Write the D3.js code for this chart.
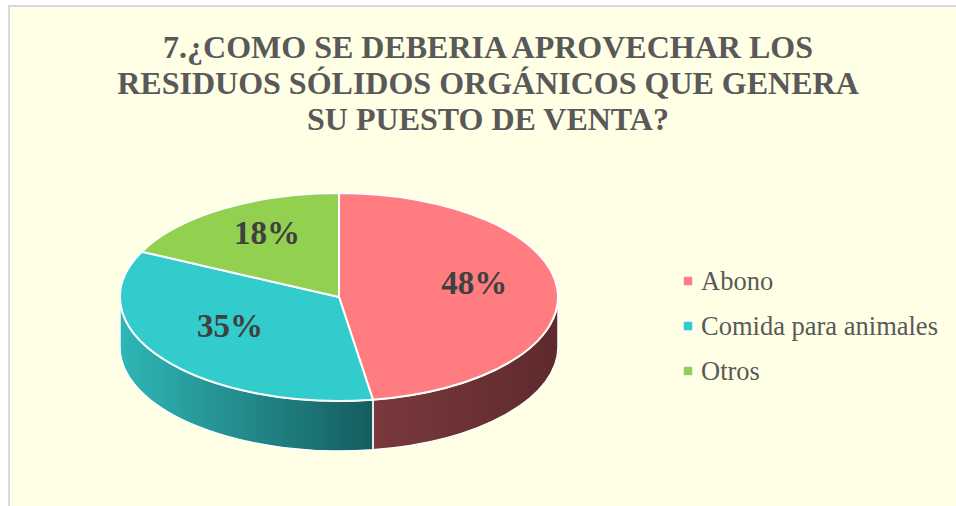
<!DOCTYPE html>
<html>
<head>
<meta charset="utf-8">
<script src="https://cdn.jsdelivr.net/npm/d3@7"></script>
<style>
  body { margin: 0; background: #ffffff; }
  svg { display: block; }
  .title { font-family: "Liberation Serif", "DejaVu Serif", serif; font-weight: bold; font-size: 32px; fill: #595959; }
  .pct { font-family: "Liberation Serif", "DejaVu Serif", serif; font-weight: bold; font-size: 33px; fill: #404040; }
  .legend-text { font-family: "Liberation Serif", "DejaVu Serif", serif; font-size: 26.5px; fill: #595959; }
</style>
</head>
<body>
<script>
// chart data
var categories = ["Abono", "Comida para animales", "Otros"];
var values = [48, 35, 18];
var pctLabels = ["48%", "35%", "18%"];
var titleLines = ["7.¿COMO SE DEBERIA APROVECHAR LOS", "RESIDUOS SÓLIDOS ORGÁNICOS QUE GENERA", "SU PUESTO DE VENTA?"];

var svgWidth = 956;
var svgHeight = 506;

// pie geometry (tilted disc)
var cx = 339, cy = 297, rx = 219, ry = 104, depth = 50;

var topColors = ["#FF7C80", "#33CCCC", "#92D050"];
var sideColors = [["#7a393c", "#5e2a2d"], ["#2fb6b6", "#155d5e"], ["#6d9c3a", "#4a6b26"]];

var svg = d3.select("body").append("svg")
    .attr("width", svgWidth)
    .attr("height", svgHeight);

// panel
svg.append("rect")
    .attr("x", 9).attr("y", 6)
    .attr("width", svgWidth).attr("height", svgHeight)
    .attr("fill", "#FFFFE5")
    .attr("stroke", "#d9d9d9")
    .attr("stroke-width", 2);

// title
var title = svg.append("text").attr("class", "title").attr("text-anchor", "middle");
titleLines.forEach(function (line, i) {
    title.append("tspan")
        .attr("x", 488)
        .attr("y", 58 + i * 36)
        .text(line);
});

// gradients for side walls
var defs = svg.append("defs");
sideColors.forEach(function (c, i) {
    var g = defs.append("linearGradient")
        .attr("id", "side" + i)
        .attr("x1", "0%").attr("x2", "100%")
        .attr("y1", "0%").attr("y2", "0%");
    g.append("stop").attr("offset", "0%").attr("stop-color", c[0]);
    g.append("stop").attr("offset", "100%").attr("stop-color", c[1]);
});

var pie = d3.pie().sort(null).value(function (d) { return d; });
var arcs = pie(values);

function pt(a, r, dy) {
    r = r == null ? 1 : r;
    return [cx + rx * r * Math.sin(a), cy - ry * r * Math.cos(a) + (dy || 0)];
}

function topPath(d) {
    var p0 = pt(d.startAngle), p1 = pt(d.endAngle);
    var large = (d.endAngle - d.startAngle) > Math.PI ? 1 : 0;
    return "M" + cx + "," + cy + "L" + p0 + "A" + rx + "," + ry + " 0 " + large + " 1 " + p1 + "Z";
}

function sidePath(d) {
    var s = Math.max(d.startAngle, Math.PI / 2);
    var e = Math.min(d.endAngle, Math.PI * 1.5);
    if (e <= s) return null;
    var a = pt(s), b = pt(e), bd = pt(e, 1, depth), ad = pt(s, 1, depth);
    return "M" + a + "A" + rx + "," + ry + " 0 0 1 " + b +
        "L" + bd + "A" + rx + "," + ry + " 0 0 0 " + ad + "Z";
}

var pieGroup = svg.append("g");

// walls
pieGroup.selectAll(".side")
    .data(arcs.filter(function (d) { return sidePath(d) != null; }))
    .enter()
    .append("path")
    .classed("side", true)
    .attr("d", sidePath)
    .attr("fill", function (d) { return "url(#side" + d.index + ")"; })
    .attr("stroke", "#ffffff")
    .attr("stroke-width", 1.5)
    .attr("stroke-linejoin", "round");

// top faces
pieGroup.selectAll(".top")
    .data(arcs)
    .enter()
    .append("path")
    .classed("top", true)
    .attr("d", topPath)
    .attr("fill", function (d, i) { return topColors[i]; })
    .attr("stroke", "#ffffff")
    .attr("stroke-width", 2)
    .attr("stroke-linejoin", "round");

// percent labels: placed on a slightly raised inner ellipse
pieGroup.selectAll(".pct")
    .data(arcs)
    .enter()
    .append("text")
    .attr("class", "pct")
    .attr("text-anchor", "middle")
    .attr("x", function (d) { return pt((d.startAngle + d.endAngle) / 2, 0.62)[0]; })
    .attr("y", function (d) { return pt((d.startAngle + d.endAngle) / 2, 0.62, -10)[1] + 12; })
    .text(function (d, i) { return pctLabels[i]; });

// legend
var legend = svg.append("g").attr("transform", "translate(683, 281)");
var item = legend.selectAll(".item")
    .data(categories)
    .enter()
    .append("g")
    .attr("transform", function (d, i) { return "translate(0," + i * 45 + ")"; });

item.append("rect")
    .attr("x", 0).attr("y", -5)
    .attr("width", 10).attr("height", 10)
    .attr("fill", function (d, i) { return topColors[i]; })
    .attr("stroke", "#ffffff")
    .attr("stroke-width", 1.5);

item.append("text")
    .attr("class", "legend-text")
    .attr("x", 18)
    .attr("y", 9)
    .text(function (d) { return d; });
</script>
</body>
</html>
